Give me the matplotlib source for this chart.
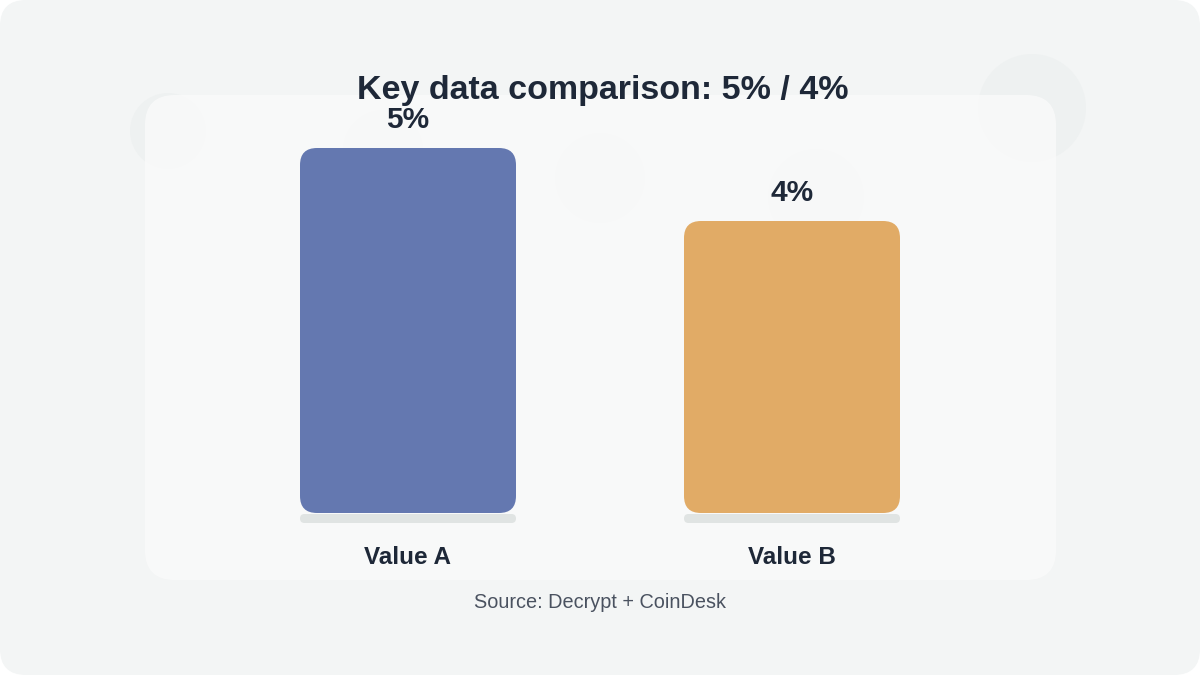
import matplotlib.pyplot as plt
from matplotlib.patches import FancyBboxPatch, Circle

plt.rcParams['font.family'] = ['Liberation Sans', 'DejaVu Sans']

# data
categories = ['Value A', 'Value B']
values = [5, 4]
value_labels = ['5%', '4%']
bar_colors = ['#6478b0', '#e1ab66']
title = 'Key data comparison: 5% / 4%'
source = 'Source: Decrypt + CoinDesk'

W, H = 1200, 675
fig = plt.figure(figsize=(12, 6.75), dpi=100)
fig.patch.set_facecolor('white')

# background decoration in pixel space (y measured from top)
bg = fig.add_axes([0, 0, 1, 1])
bg.set_xlim(0, W)
bg.set_ylim(H, 0)
bg.axis('off')

bg.add_patch(FancyBboxPatch((0, 0), W, H, boxstyle='round,pad=0,rounding_size=26',
                            facecolor='#f3f5f5', edgecolor='none'))
for cx, cy, r in [(168, 131, 38), (383, 150, 40), (600, 178, 45),
                  (816, 197, 48), (1032, 108, 54)]:
    bg.add_patch(Circle((cx, cy), r, facecolor='#eef1f1', edgecolor='none'))
bg.add_patch(FancyBboxPatch((145, 95), 911, 485, boxstyle='round,pad=0,rounding_size=30',
                            facecolor='#fbfbfb', edgecolor='none', alpha=0.75))

# data axes placed so bars land where the reference has them
px_x = 384.0   # pixels per x unit
px_y = 73.0    # pixels per value unit
left, right, top, bottom = 145, 1056, 95, 580
base_y = 513
ax = fig.add_axes([left / W, (H - bottom) / H, (right - left) / W, (bottom - top) / H])
ax.patch.set_alpha(0)
ax.axis('off')
ax.set_xlim(-(408 - left) / px_x, 1 + (right - 792) / px_x)
ax.set_ylim(-(bottom - base_y) / px_y, (base_y - top) / px_y)

x = list(range(len(categories)))
bars = ax.bar(x, values, width=216 / px_x, color=bar_colors)
aspect = px_x / px_y
for rect, col, lab, cat in zip(bars, bar_colors, value_labels, categories):
    rect.set_visible(False)
    x0, w, h = rect.get_x(), rect.get_width(), rect.get_height()
    ax.add_patch(FancyBboxPatch((x0, 0), w, h,
                                boxstyle='round,pad=0,rounding_size=%f' % (17 / px_x),
                                mutation_aspect=aspect, facecolor=col, edgecolor='none'))
    # shadow strip under bar
    ax.add_patch(FancyBboxPatch((x0, -10 / px_y), w, 9 / px_y,
                                boxstyle='round,pad=0,rounding_size=%f' % (4.5 / px_x),
                                mutation_aspect=aspect, facecolor='#e0e4e3', edgecolor='none'))
    cx = x0 + w / 2
    ax.text(cx, h + 28 / px_y, lab, ha='center', va='center', fontsize=21.5,
            fontweight='bold', color='#1e2838')
    ax.text(cx, -45 / px_y, cat, ha='center', va='center', fontsize=17.5,
            fontweight='bold', color='#1e2838')

fig.text(603 / W, 1 - 91 / H, title, ha='center', va='center', fontsize=24.5,
         fontweight='bold', color='#1e2838')
fig.text(600 / W, 1 - 603 / H, source, ha='center', va='center', fontsize=14.3,
         color='#4a5260')

fig.savefig('out.png', dpi=100, facecolor='white')
